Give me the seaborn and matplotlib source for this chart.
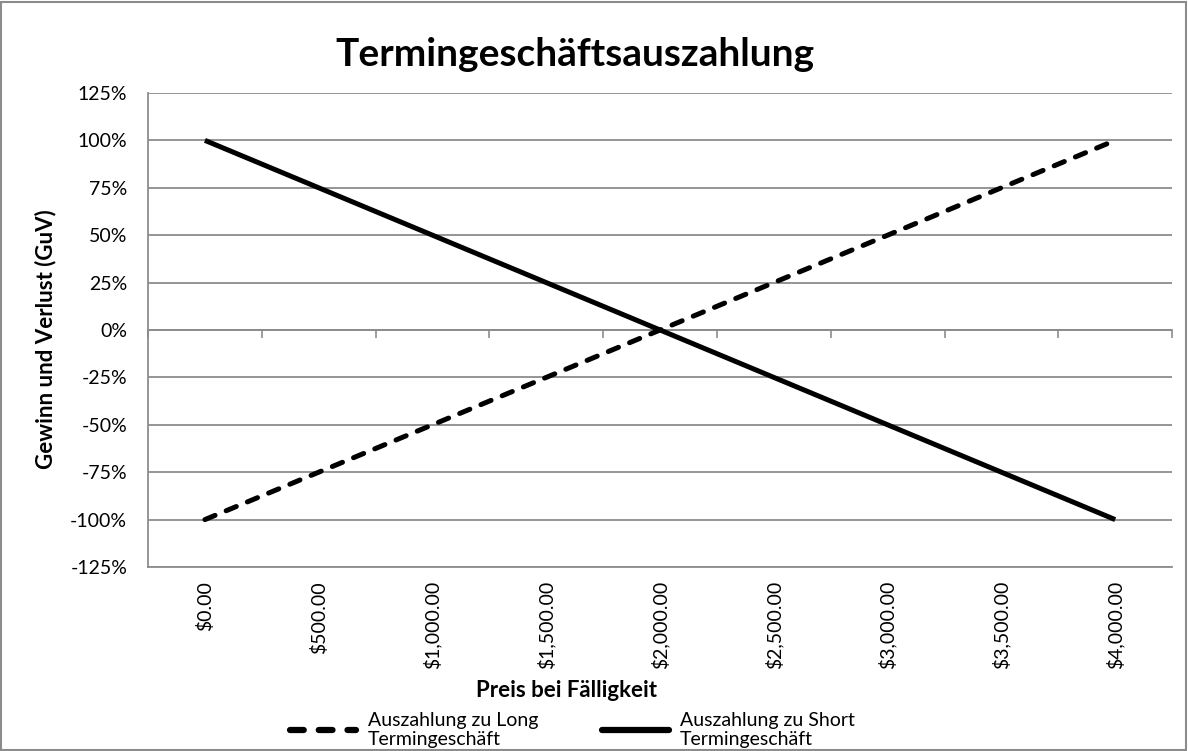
import numpy as np
import pandas as pd
import matplotlib
matplotlib.use("Agg")
import matplotlib.pyplot as plt
import seaborn as sns
from matplotlib.patches import Rectangle

# data
preise = ["$0.00", "$500.00", "$1,000.00", "$1,500.00", "$2,000.00",
          "$2,500.00", "$3,000.00", "$3,500.00", "$4,000.00"]
long_guv = [-100, -75, -50, -25, 0, 25, 50, 75, 100]
short_guv = [100, 75, 50, 25, 0, -25, -50, -75, -100]
y_ticks = [-125, -100, -75, -50, -25, 0, 25, 50, 75, 100, 125]

lab_long = "Auszahlung zu Long\nTermingeschäft"
lab_short = "Auszahlung zu Short\nTermingeschäft"

df = pd.DataFrame({"Preis": preise * 2,
                   "GuV": long_guv + short_guv,
                   "Serie": [lab_long] * len(preise) + [lab_short] * len(preise)})
df["pos"] = list(range(len(preise))) * 2

sns.set_theme(style="white")
plt.rcParams["font.family"] = ["Lato", "DejaVu Sans"]
plt.rcParams.update({"text.color": "black", "axes.labelcolor": "black",
                     "xtick.color": "black", "ytick.color": "black"})

fig = plt.figure(figsize=(11.88, 7.51), dpi=100)
ax = fig.add_axes([0.1246, 0.245, 0.862, 0.6312])

sns.lineplot(data=df, x="pos", y="GuV", hue="Serie", style="Serie",
             palette=["black", "black"],
             dashes={lab_long: (2.2, 2.4), lab_short: ""},
             linewidth=3.6, ax=ax, legend=False)
for ln in ax.get_lines():
    ln.set_dash_capstyle("round")
    ln.set_solid_capstyle("butt")

ax.set_xlim(-0.5, len(preise) - 0.5)
ax.set_ylim(-125, 125)
ax.set_yticks(y_ticks)
ax.set_yticklabels([f"{v}%" for v in y_ticks])
ax.grid(axis="y", color="#8c8c8c", linewidth=1.3)
ax.set_axisbelow(True)
ax.set_xticks(range(len(preise)))
ax.set_xticklabels(preise, rotation=90, va="top")
ax.tick_params(axis="x", length=0, pad=10, labelsize=14)
ax.tick_params(axis="y", length=6, width=1.2, color="#8c8c8c", labelcolor="black",
               labelsize=14, pad=9)
ax.set_xlabel("")
ax.set_ylabel("Gewinn und Verlust (GuV)", fontsize=16, fontweight="bold")
ax.yaxis.set_label_coords(-0.09, 0.48)

for s in ["top", "right"]:
    ax.spines[s].set_visible(False)
for s in ["left", "bottom"]:
    ax.spines[s].set_color("#8c8c8c")
    ax.spines[s].set_linewidth(1.3)

# category axis crossing at 0 with tick marks between categories
sec = ax.secondary_xaxis(0.5)
sec.set_xticks(np.arange(-0.5, len(preise), 1.0))
sec.set_xticklabels([])
sec.tick_params(length=6, width=1.2, color="#8c8c8c", direction="in")
for s in sec.spines.values():
    s.set_color("#8c8c8c")
    s.set_linewidth(1.3)

fig.text(0.484, 0.927, "Termingeschäftsauszahlung", ha="center", va="center",
         fontsize=28, fontweight="bold")
fig.text(0.477, 0.081, "Preis bei Fälligkeit", ha="center", va="center",
         fontsize=16, fontweight="bold")

handles = [plt.Line2D([], [], color="black", linewidth=4.5, linestyle=(0, (2.2, 2.4)),
                      dash_capstyle="round"),
           plt.Line2D([], [], color="black", linewidth=4.5)]
fig.legend(handles, [lab_long, lab_short], loc="center", bbox_to_anchor=(0.482, 0.028),
           ncol=2, frameon=False, fontsize=14, handlelength=3.4, columnspacing=3.3,
           handletextpad=0.6, labelspacing=0.2)

fig.add_artist(Rectangle((0.001, 0.001), 0.997, 0.997, transform=fig.transFigure,
                         fill=False, edgecolor="#8c8c8c", linewidth=1.5))

fig.savefig("out.png", dpi=100)
